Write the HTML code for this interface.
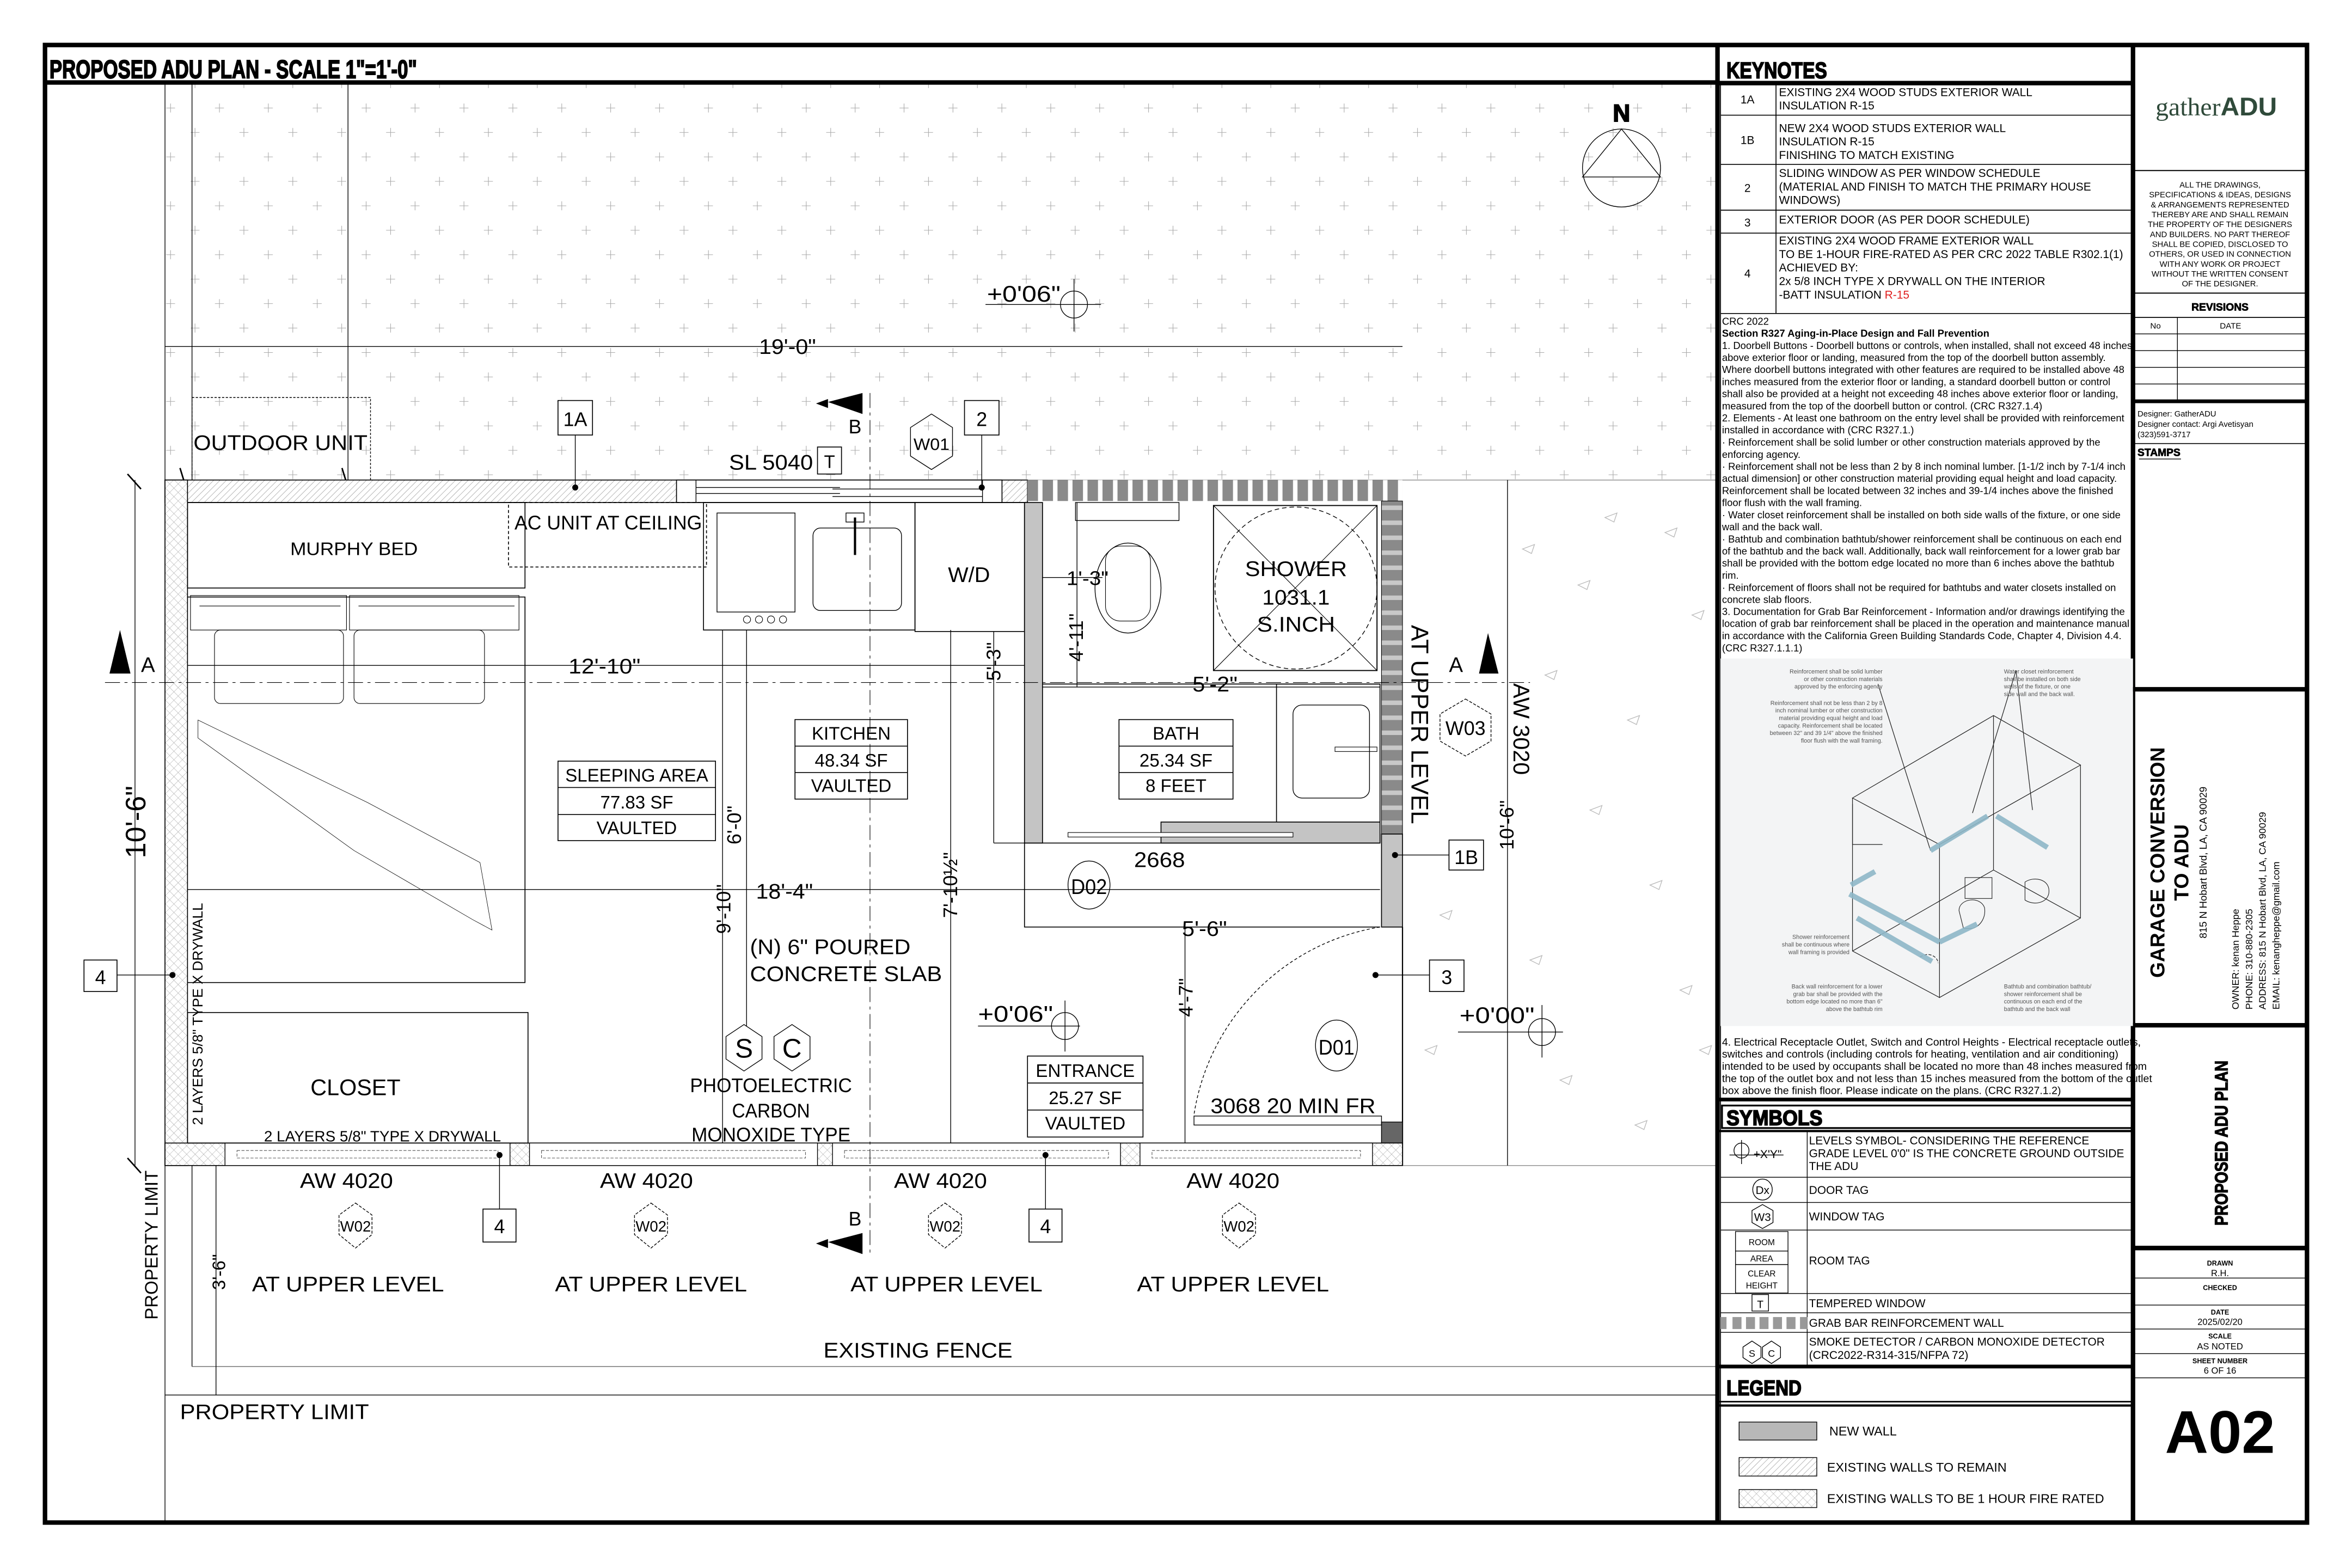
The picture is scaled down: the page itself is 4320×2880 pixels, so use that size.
<!DOCTYPE html>
<html><head><meta charset="utf-8"><style>
html,body{margin:0;padding:0;background:#fff}
svg{display:block}
text{font-family:"Liberation Sans",sans-serif;fill:#000}
.c{text-anchor:middle}
.b{font-weight:bold}
.h{font-weight:bold;stroke:#000;stroke-width:0.7}
</style></head><body>
<svg width="4320" height="2880" viewBox="0 0 1568 1045.3" preserveAspectRatio="none" xmlns="http://www.w3.org/2000/svg">
<defs>
<pattern id="grid" x="113.7" y="72" width="32.6" height="32.6" patternUnits="userSpaceOnUse">
<path d="M-3 0H3M0 -3V3M13.3 16.3H19.3M16.3 13.3V19.3" stroke="#aaa" stroke-width="0.4" fill="none"/>
<path d="M29.6 0H35.6M32.6 -3V3M-3 32.6H3M0 29.6V35.6M29.6 32.6H35.6M32.6 29.6V35.6" stroke="#aaa" stroke-width="0.4" fill="none"/>
</pattern>
<pattern id="hatch" width="3" height="3" patternUnits="userSpaceOnUse" patternTransform="rotate(45)">
<rect width="3" height="3" fill="#fff"/><line x1="0" y1="0" x2="0" y2="3" stroke="#999" stroke-width="0.5"/>
</pattern>
<pattern id="xhatch" width="4" height="4" patternUnits="userSpaceOnUse" patternTransform="rotate(45)">
<rect width="4" height="4" fill="#fff"/><path d="M0 0V4M0 0H4" stroke="#aaa" stroke-width="0.4"/>
</pattern>
<pattern id="grab" width="10" height="14" patternUnits="userSpaceOnUse" x="685">
<rect width="10" height="14" fill="#fff"/><rect width="7" height="14" fill="#8a8a8a"/>
</pattern>
<pattern id="grabv" width="15" height="10" patternUnits="userSpaceOnUse" y="320">
<rect width="15" height="10" fill="#c8c8c8"/><rect width="15" height="7" fill="#8a8a8a"/>
</pattern>
</defs>
<rect width="1568" height="1045.3" fill="#fff"/>

<!-- ===== PLAN AREA ===== -->
<rect x="110" y="56" width="1035" height="264" fill="url(#grid)"/>
<g stroke="#000" stroke-width="0.5" fill="none">
<line x1="110" y1="56" x2="110" y2="1015"/>
<line x1="128" y1="56" x2="128" y2="320"/>
<line x1="232" y1="56" x2="232" y2="320"/>
<line x1="110" y1="231" x2="935" y2="231"/>
<line x1="110" y1="320" x2="1145" y2="320" stroke="#888"/>
<line x1="110" y1="777" x2="1145" y2="777" stroke="#888"/>
<line x1="1005" y1="320" x2="1005" y2="777"/>
<rect x="128" y="265" width="119" height="55" stroke-dasharray="1.5,1"/>
<line x1="128" y1="777" x2="128" y2="911"/>
<line x1="128" y1="911" x2="1145" y2="911" stroke="#666"/>
<line x1="144" y1="777" x2="144" y2="930"/>
<line x1="110" y1="930" x2="1145" y2="930"/>
<line x1="120" y1="312" x2="124" y2="325" stroke-width="1"/>
<line x1="228" y1="312" x2="232" y2="325" stroke-width="1"/>
<line x1="85" y1="316" x2="94" y2="326" stroke-width="1"/>
<line x1="85" y1="772" x2="94" y2="782" stroke-width="1"/>
</g>
<!-- triangles -->
<g fill="none" stroke="#bbb" stroke-width="0.5">
<path d="M1015 366l8-3-2 6z M1052 390l8-3-2 6z M1070 345l8-3-2 6z M1110 355l8-3-2 6z M1128 410l8-3-2 6z M1030 450l8-3-2 6z M1085 480l8-3-2 6z M1060 540l8-3-2 6z M1100 590l8-3-2 6z M1020 640l8-3-2 6z M1120 660l8-3-2 6z M960 610l8-3-2 6z M1040 720l8-3-2 6z M1090 750l8-3-2 6z M1133 700l8-3-2 6z M950 700l8-3-2 6z"/>
</g>

<!-- walls -->
<rect x="110" y="320" width="575" height="15" fill="url(#hatch)" stroke="#000" stroke-width="0.6"/>
<rect x="451" y="320" width="217" height="15" fill="#fff" stroke="#000" stroke-width="0.6"/>
<g stroke="#000" stroke-width="0.5"><line x1="464" y1="325" x2="560" y2="325"/><line x1="464" y1="329" x2="560" y2="329"/><line x1="555" y1="326" x2="655" y2="326"/><line x1="555" y1="331" x2="655" y2="331"/><line x1="464" y1="320" x2="464" y2="335"/><line x1="655" y1="320" x2="655" y2="335"/></g>
<rect x="685" y="320" width="250" height="14" fill="url(#grab)"/>
<rect x="921" y="334" width="14" height="222" fill="url(#grabv)" stroke="#000" stroke-width="0.4"/>
<rect x="921" y="556" width="14" height="62" fill="#c4c4c4" stroke="#000" stroke-width="0.6"/>
<line x1="935" y1="618" x2="935" y2="777" stroke="#000" stroke-width="0.8"/>
<rect x="921" y="748" width="14" height="14" fill="#666" stroke="#000" stroke-width="0.5"/>
<rect x="110" y="320" width="15" height="457" fill="url(#xhatch)" stroke="#000" stroke-width="0.6"/>
<rect x="110" y="762" width="825" height="15" fill="url(#xhatch)" stroke="#000" stroke-width="0.6"/>
<g fill="#fff" stroke="#000" stroke-width="0.5">
<rect x="150" y="762" width="190" height="15"/><rect x="353" y="762" width="192" height="15"/><rect x="555" y="762" width="192" height="15"/><rect x="760" y="762" width="155" height="15"/>
</g>
<g stroke="#555" stroke-width="0.4" stroke-dasharray="2,1" fill="none">
<rect x="158" y="767" width="174" height="5"/><rect x="361" y="767" width="176" height="5"/><rect x="563" y="767" width="176" height="5"/><rect x="768" y="767" width="139" height="5"/>
</g>

<!-- interior -->
<g stroke="#000" stroke-width="0.6" fill="none">
<rect x="125" y="335" width="225" height="57"/>
<rect x="339" y="335" width="132" height="43" stroke-dasharray="2,1.5"/>
<path d="M125 398H350V655H125"/>
<path d="M127 397h104v23h-104z M133 404h94 M233 397h113v23h-113z M239 404h104" stroke-width="0.4"/>
<rect x="143" y="420" width="86" height="49" rx="4" stroke-width="0.4"/>
<rect x="236" y="420" width="87" height="49" rx="4" stroke-width="0.4"/>
<path d="M132 480L245 535 L320 575 L328 620 L315 613 L236 567 L132 492Z" stroke-width="0.3"/>
<rect x="125" y="675" width="227" height="87"/>
<rect x="469" y="335" width="141" height="85"/>
<rect x="478" y="342" width="52" height="66" stroke-width="0.5"/>
<rect x="542" y="352" width="59" height="55" rx="5" stroke-width="0.5"/>
<rect x="564" y="342" width="12" height="6" stroke-width="0.5"/>
<line x1="570" y1="345" x2="570" y2="370" stroke-width="1.5"/>
<circle cx="498" cy="413" r="2.4" stroke-width="0.4"/><circle cx="506" cy="413" r="2.4" stroke-width="0.4"/><circle cx="514" cy="413" r="2.4" stroke-width="0.4"/><circle cx="522" cy="413" r="2.4" stroke-width="0.4"/>
<rect x="610" y="335" width="73" height="86"/>
<path d="M683 562H920"/>
<path d="M683 562V618H920"/>
<rect x="717" y="335" width="69" height="12" stroke-width="0.5"/>
<ellipse cx="752" cy="392" rx="22" ry="30" stroke-width="0.5"/>
<rect x="737" y="364" width="30" height="50" rx="10" stroke-width="0.4"/>
<rect x="809" y="337" width="109" height="110" stroke-width="0.7"/>
<path d="M809 337L918 447M918 337L809 447" stroke-width="0.4"/>
<circle cx="864" cy="392" r="54" stroke-width="0.5" stroke-dasharray="3,2"/>
<rect x="851" y="456" width="69" height="92"/>
<rect x="862" y="470" width="51" height="62" rx="6" stroke-width="0.5"/>
<rect x="890" y="498" width="28" height="3" stroke-width="0.4"/>
<line x1="695" y1="456" x2="920" y2="456"/>
<path d="M920 618 A150 150 0 0 0 796 743" stroke-dasharray="2,1.5" stroke-width="0.5"/>
<rect x="796" y="744" width="125" height="6" stroke-width="0.5"/>
</g>
<rect x="683" y="335" width="12" height="227" fill="#c4c4c4" stroke="#000" stroke-width="0.6"/>
<rect x="774" y="548" width="146" height="14" fill="#c4c4c4" stroke="#000" stroke-width="0.6"/>
<rect x="712" y="555" width="150" height="3" fill="#fff" stroke="#000" stroke-width="0.4"/>

<!-- dimension lines -->
<g stroke="#000" stroke-width="0.5" fill="none">
<line x1="125" y1="443.6" x2="683" y2="443.6"/>
<line x1="125" y1="593" x2="920" y2="593"/>
<line x1="695" y1="458" x2="920" y2="458"/>
<line x1="683" y1="618" x2="920" y2="618"/>
<line x1="481.7" y1="420" x2="481.7" y2="762"/>
<line x1="497.7" y1="420" x2="497.7" y2="684"/>
<line x1="633.8" y1="420" x2="633.8" y2="762"/>
<line x1="662.5" y1="421" x2="662.5" y2="562"/>
<line x1="662.5" y1="562" x2="683" y2="562"/>
<line x1="718" y1="335" x2="718" y2="458"/>
<line x1="695" y1="385" x2="735" y2="385"/>
<line x1="790" y1="618" x2="790" y2="762"/>
<line x1="90" y1="320" x2="90" y2="777"/>
<line x1="70" y1="455" x2="1020" y2="455" stroke-dasharray="10,3,2,3" stroke-width="0.4"/>
<line x1="580" y1="262" x2="580" y2="835" stroke-dasharray="10,3,2,3" stroke-width="0.4"/>
<line x1="657" y1="203" x2="734" y2="203"/><circle cx="716" cy="203" r="9"/><line x1="716" y1="186" x2="716" y2="221"/>
<line x1="652" y1="684" x2="720" y2="684"/><circle cx="710" cy="684" r="9"/><line x1="710" y1="667" x2="710" y2="701"/>
<line x1="972" y1="688" x2="1042" y2="688"/><circle cx="1028" cy="688" r="9"/><line x1="1028" y1="670" x2="1028" y2="705"/>
</g>
<!-- section markers -->
<g fill="#000">
<path d="M73 449 L80 420 L87 449Z"/>
<path d="M986 449 L992 422 L999 449Z"/>
<path d="M552 268 L575 262 L575 276Z M544 269 L552 266 L552 272Z"/>
<path d="M552 828 L575 822 L575 836Z M544 829 L552 826 L552 832Z"/>
</g>
<text x="94" y="448" font-size="14">A</text>
<text x="966" y="448" font-size="14">A</text>
<text x="570" y="289" font-size="13" class="c">B</text>
<text x="570" y="817" font-size="13" class="c">B</text>

<!-- callout boxes -->
<g stroke="#000" stroke-width="0.6" fill="#fff">
<rect x="372" y="267" width="23" height="23"/><rect x="643" y="267" width="23" height="23"/>
<rect x="545" y="298" width="16" height="18"/>
<rect x="966" y="560" width="23" height="20"/>
<rect x="953" y="640" width="23" height="21"/>
<rect x="56" y="640" width="22" height="21"/>
<rect x="322" y="806" width="22" height="22"/><rect x="686" y="806" width="22" height="22"/>
</g>
<g stroke="#000" stroke-width="0.5" fill="none">
<line x1="383.5" y1="290" x2="383.5" y2="325"/><line x1="654.5" y1="290" x2="654.5" y2="325"/>
<line x1="930" y1="570" x2="966" y2="570"/><line x1="917" y1="650" x2="953" y2="650"/>
<line x1="78" y1="650" x2="115" y2="650"/>
<line x1="333" y1="770" x2="333" y2="806"/><line x1="697" y1="770" x2="697" y2="806"/>
</g>
<g fill="#000"><circle cx="383.5" cy="325" r="2"/><circle cx="654.5" cy="325" r="2"/><circle cx="930" cy="570" r="2"/><circle cx="917" cy="650" r="2"/><circle cx="115" cy="650" r="2"/><circle cx="333" cy="770" r="2"/><circle cx="697" cy="770" r="2"/></g>
<g font-size="13" class="c">
<text x="383.5" y="284" class="c">1A</text><text x="654.5" y="284" class="c">2</text>
<text x="553" y="312" font-size="12" class="c">T</text>
<text x="977.5" y="576" class="c">1B</text><text x="964.5" y="656" class="c">3</text>
<text x="67" y="656" class="c">4</text><text x="333" y="822" class="c">4</text><text x="697" y="822" class="c">4</text>
</g>
<!-- hexes -->
<g fill="none" stroke="#000" stroke-width="0.5">
<path d="M621 276L635 285V304L621 313L607 304V285Z"/>
<path d="M977 466L994 476V494L977 504L960 494V476Z" stroke-dasharray="2,1"/>
<path d="M237 802L248 810V823L237 832L226 823V810Z" stroke-dasharray="2,1"/>
<path d="M434 802L445 810V823L434 832L423 823V810Z" stroke-dasharray="2,1"/>
<path d="M630 802L641 810V823L630 832L619 823V810Z" stroke-dasharray="2,1"/>
<path d="M826 802L837 810V823L826 832L815 823V810Z" stroke-dasharray="2,1"/>
<path d="M496 683L508 691V706L496 714L484 706V691Z"/>
<path d="M528 683L540 691V706L528 714L516 706V691Z"/>
<ellipse cx="726" cy="590" rx="14" ry="16"/>
<ellipse cx="891" cy="697" rx="14" ry="17"/>
</g>
<text x="621" y="300" font-size="11" class="c" textLength="24" lengthAdjust="spacingAndGlyphs">W01</text>
<text x="977" y="490" font-size="13" class="c">W03</text>
<g font-size="10" class="c"><text x="237" y="821">W02</text><text x="434" y="821">W02</text><text x="630" y="821">W02</text><text x="826" y="821">W02</text></g>
<text x="496" y="705" font-size="18" class="c">S</text><text x="528" y="705" font-size="18" class="c">C</text>
<text x="726" y="596" font-size="14" class="c" textLength="24" lengthAdjust="spacingAndGlyphs">D02</text>
<text x="891" y="703" font-size="14" class="c" textLength="24" lengthAdjust="spacingAndGlyphs">D01</text>

<!-- North -->
<ellipse cx="1081" cy="112" rx="26" ry="26" fill="none" stroke="#000" stroke-width="0.5"/>
<path d="M1055 118L1081 86L1107 118Z" fill="none" stroke="#000" stroke-width="0.5"/>
<text x="1081" y="81" font-size="16" class="c h">N</text>

<!-- Title -->
<text x="33" y="52" font-size="17" class="h" textLength="245" lengthAdjust="spacingAndGlyphs">PROPOSED ADU PLAN - SCALE 1"=1'-0"</text>

<!-- Plan labels -->
<g font-size="14">
<text x="129" y="300" textLength="116" lengthAdjust="spacingAndGlyphs">OUTDOOR UNIT</text>
<text x="486" y="313" textLength="56" lengthAdjust="spacingAndGlyphs">SL 5040</text>
<text x="343" y="353" font-size="13" textLength="125" lengthAdjust="spacingAndGlyphs">AC UNIT AT CEILING</text>
<text x="236" y="370" font-size="12" class="c" textLength="85" lengthAdjust="spacingAndGlyphs">MURPHY BED</text>
<text x="646" y="388" class="c" textLength="28" lengthAdjust="spacingAndGlyphs">W/D</text>
<text x="725" y="390" class="c" font-size="13" textLength="28" lengthAdjust="spacingAndGlyphs">1'-3"</text>
<text x="864" y="384" class="c" textLength="68" lengthAdjust="spacingAndGlyphs">SHOWER</text>
<text x="864" y="403" class="c" textLength="45" lengthAdjust="spacingAndGlyphs">1031.1</text>
<text x="864" y="421" class="c" textLength="52" lengthAdjust="spacingAndGlyphs">S.INCH</text>
<text x="525" y="236" class="c" textLength="38" lengthAdjust="spacingAndGlyphs">19'-0"</text>
<text x="403" y="449" class="c" textLength="48" lengthAdjust="spacingAndGlyphs">12'-10"</text>
<text x="810" y="461" class="c" textLength="30" lengthAdjust="spacingAndGlyphs">5'-2"</text>
<text x="523" y="599" class="c" textLength="38" lengthAdjust="spacingAndGlyphs">18'-4"</text>
<text x="773" y="578" class="c" textLength="34" lengthAdjust="spacingAndGlyphs">2668</text>
<text x="803" y="624" class="c" textLength="30" lengthAdjust="spacingAndGlyphs">5'-6"</text>
<text x="500" y="636" textLength="107" lengthAdjust="spacingAndGlyphs">(N) 6" POURED</text>
<text x="500" y="654" textLength="128" lengthAdjust="spacingAndGlyphs">CONCRETE SLAB</text>
<text x="514" y="728" class="c" font-size="13" textLength="108" lengthAdjust="spacingAndGlyphs">PHOTOELECTRIC</text>
<text x="514" y="745" class="c" font-size="13" textLength="52" lengthAdjust="spacingAndGlyphs">CARBON</text>
<text x="514" y="761" class="c" font-size="13" textLength="106" lengthAdjust="spacingAndGlyphs">MONOXIDE TYPE</text>
<text x="237" y="730" class="c" font-size="15" textLength="60" lengthAdjust="spacingAndGlyphs">CLOSET</text>
<text x="255" y="761" class="c" font-size="10" textLength="158" lengthAdjust="spacingAndGlyphs">2 LAYERS 5/8" TYPE X DRYWALL</text>
<text x="652" y="681" font-size="15" textLength="50" lengthAdjust="spacingAndGlyphs">+0'06"</text>
<text x="658" y="201" font-size="15" textLength="49" lengthAdjust="spacingAndGlyphs">+0'06"</text>
<text x="973" y="682" font-size="15" textLength="50" lengthAdjust="spacingAndGlyphs">+0'00"</text>
<text x="862" y="742" font-size="14" class="c" textLength="110" lengthAdjust="spacingAndGlyphs">3068 20 MIN FR</text>
<g class="c" font-size="14">
<text x="231" y="792" textLength="62" lengthAdjust="spacingAndGlyphs">AW 4020</text>
<text x="431" y="792" textLength="62" lengthAdjust="spacingAndGlyphs">AW 4020</text>
<text x="627" y="792" textLength="62" lengthAdjust="spacingAndGlyphs">AW 4020</text>
<text x="822" y="792" textLength="62" lengthAdjust="spacingAndGlyphs">AW 4020</text>
<text x="232" y="861" textLength="128" lengthAdjust="spacingAndGlyphs">AT UPPER LEVEL</text>
<text x="434" y="861" textLength="128" lengthAdjust="spacingAndGlyphs">AT UPPER LEVEL</text>
<text x="631" y="861" textLength="128" lengthAdjust="spacingAndGlyphs">AT UPPER LEVEL</text>
<text x="822" y="861" textLength="128" lengthAdjust="spacingAndGlyphs">AT UPPER LEVEL</text>
<text x="612" y="905" textLength="126" lengthAdjust="spacingAndGlyphs">EXISTING FENCE</text>
</g>
<text x="120" y="946" textLength="126" lengthAdjust="spacingAndGlyphs">PROPERTY LIMIT</text>
</g>
<!-- rotated labels -->
<g font-size="13">
<text transform="translate(105,830) rotate(-90)" class="c" font-size="12">PROPERTY LIMIT</text>
<text transform="translate(97,548) rotate(-90)" class="c" font-size="19">10'-6"</text>
<text transform="translate(150,848) rotate(-90)" class="c" font-size="12">3'-6"</text>
<text transform="translate(135,676) rotate(-90)" class="c" font-size="9.5">2 LAYERS 5/8" TYPE X DRYWALL</text>
<text transform="translate(494,550) rotate(-90)" class="c">6'-0"</text>
<text transform="translate(487,606) rotate(-90)" class="c">9'-10"</text>
<text transform="translate(638,590) rotate(-90)" class="c">7'-10½"</text>
<text transform="translate(667,441) rotate(-90)" class="c">5'-3"</text>
<text transform="translate(722,425) rotate(-90)" class="c">4'-11"</text>
<text transform="translate(795,665) rotate(-90)" class="c">4'-7"</text>
<text transform="translate(1009,550) rotate(-90)" class="c">10'-6"</text>
<text transform="translate(941,483) rotate(90)" class="c" font-size="16">AT UPPER LEVEL</text>
<text transform="translate(1009,486) rotate(90)" class="c" font-size="15">AW 3020</text>
</g>

<!-- room tags -->
<g fill="none" stroke="#000" stroke-width="0.6">
<rect x="372" y="507.4" width="105" height="53"/><line x1="372" y1="525" x2="477" y2="525"/><line x1="372" y1="543" x2="477" y2="543"/>
<rect x="530" y="479.7" width="75" height="53"/><line x1="530" y1="497.4" x2="605" y2="497.4"/><line x1="530" y1="515" x2="605" y2="515"/>
<rect x="746" y="479.7" width="76" height="53"/><line x1="746" y1="497.4" x2="822" y2="497.4"/><line x1="746" y1="515" x2="822" y2="515"/>
<rect x="685" y="704" width="77" height="54"/><line x1="685" y1="722" x2="762" y2="722"/><line x1="685" y1="740" x2="762" y2="740"/>
</g>
<g font-size="12" class="c">
<text x="424.5" y="521" class="c">SLEEPING AREA</text><text x="424.5" y="539" class="c">77.83 SF</text><text x="424.5" y="556" class="c">VAULTED</text>
<text x="567.5" y="493" class="c">KITCHEN</text><text x="567.5" y="511" class="c">48.34 SF</text><text x="567.5" y="528" class="c">VAULTED</text>
<text x="784" y="493" class="c">BATH</text><text x="784" y="511" class="c">25.34 SF</text><text x="784" y="528" class="c">8 FEET</text>
<text x="723.5" y="718" class="c">ENTRANCE</text><text x="723.5" y="736" class="c">25.27 SF</text><text x="723.5" y="753" class="c">VAULTED</text>
</g>

<!-- ===== FRAME ===== -->
<g stroke="#000" fill="none">
<rect x="30" y="30" width="1508" height="985" stroke-width="3"/>
<line x1="30" y1="55" x2="1145" y2="55" stroke-width="3"/>
<line x1="1145" y1="30" x2="1145" y2="1015" stroke-width="3"/>
<line x1="1422" y1="30" x2="1422" y2="1015" stroke-width="3"/>
<line x1="1145" y1="55.4" x2="1422" y2="55.4" stroke-width="3"/>
</g>

<!-- ===== KEYNOTES ===== -->
<text x="1151" y="52" font-size="15" class="h" textLength="67" lengthAdjust="spacingAndGlyphs">KEYNOTES</text>
<g stroke="#000" stroke-width="0.6" fill="none">
<line x1="1147" y1="76.8" x2="1422" y2="76.8"/><line x1="1147" y1="109.6" x2="1422" y2="109.6"/><line x1="1147" y1="140.1" x2="1422" y2="140.1"/><line x1="1147" y1="155.4" x2="1422" y2="155.4"/><line x1="1147" y1="209" x2="1422" y2="209"/>
<line x1="1184" y1="55" x2="1184" y2="209"/><line x1="1147" y1="55" x2="1147" y2="1015"/>
</g>
<g font-size="7.6">
<text x="1165" y="69" class="c">1A</text><text x="1165" y="96" class="c">1B</text><text x="1165" y="128" class="c">2</text><text x="1165" y="151" class="c">3</text><text x="1165" y="185" class="c">4</text>
<text x="1186" y="64">EXISTING 2X4 WOOD STUDS EXTERIOR WALL</text>
<text x="1186" y="73">INSULATION R-15</text>
<text x="1186" y="88">NEW 2X4 WOOD STUDS EXTERIOR WALL</text>
<text x="1186" y="97">INSULATION R-15</text>
<text x="1186" y="106">FINISHING TO MATCH EXISTING</text>
<text x="1186" y="118">SLIDING WINDOW AS PER WINDOW SCHEDULE</text>
<text x="1186" y="127">(MATERIAL AND FINISH TO MATCH THE PRIMARY HOUSE</text>
<text x="1186" y="136">WINDOWS)</text>
<text x="1186" y="149">EXTERIOR DOOR (AS PER DOOR SCHEDULE)</text>
<text x="1186" y="163">EXISTING 2X4 WOOD FRAME EXTERIOR WALL</text>
<text x="1186" y="172">TO BE 1-HOUR FIRE-RATED  AS PER CRC 2022 TABLE R302.1(1)</text>
<text x="1186" y="181">ACHIEVED BY:</text>
<text x="1186" y="190">2x 5/8 INCH TYPE X DRYWALL ON THE INTERIOR</text>
<text x="1186" y="199">-BATT INSULATION <tspan fill="#e02020">R-15</tspan></text>
</g>
<g font-size="6.7">
<text x="1148" y="216.5">CRC 2022</text>
<text x="1148" y="224.5" class="b">Section R327 Aging-in-Place Design and Fall Prevention</text>
<text x="1148" y="232.6">1. Doorbell Buttons - Doorbell buttons or controls, when installed, shall not exceed 48 inches</text>
<text x="1148" y="240.7">above exterior floor or landing, measured from the top of the doorbell button assembly.</text>
<text x="1148" y="248.7">Where doorbell buttons integrated with other features are required to be installed above 48</text>
<text x="1148" y="256.8">inches measured from the exterior floor or landing, a standard doorbell button or control</text>
<text x="1148" y="264.8">shall also be provided at a height not exceeding 48 inches above exterior floor or landing,</text>
<text x="1148" y="272.9">measured from the top of the doorbell button or control. (CRC R327.1.4)</text>
<text x="1148" y="281">2. Elements - At least one bathroom on the entry level shall be provided with reinforcement</text>
<text x="1148" y="289">installed in accordance with (CRC R327.1.)</text>
<text x="1148" y="297">· Reinforcement shall be solid lumber or other construction materials approved by the</text>
<text x="1148" y="305.2">enforcing agency.</text>
<text x="1148" y="313.3">· Reinforcement shall not be less than 2 by 8 inch nominal lumber.  [1-1/2 inch by 7-1/4 inch</text>
<text x="1148" y="321.3">actual dimension] or other construction material providing equal height and load capacity.</text>
<text x="1148" y="329.4">Reinforcement shall be located between 32 inches and 39-1/4 inches above the finished</text>
<text x="1148" y="337.4">floor flush with the wall framing.</text>
<text x="1148" y="345.5">· Water closet reinforcement shall be installed on both side walls of the fixture, or one side</text>
<text x="1148" y="353.6">wall and the back wall.</text>
<text x="1148" y="361.6">· Bathtub and combination bathtub/shower reinforcement shall be continuous on each end</text>
<text x="1148" y="369.7">of the bathtub and the back wall. Additionally, back wall reinforcement for a lower grab bar</text>
<text x="1148" y="377.7">shall be provided with the bottom edge located no more than 6 inches above the bathtub</text>
<text x="1148" y="385.8">rim.</text>
<text x="1148" y="393.9">· Reinforcement of floors shall not be required for bathtubs and water closets installed on</text>
<text x="1148" y="401.9">concrete slab floors.</text>
<text x="1148" y="410">3. Documentation for Grab Bar Reinforcement - Information and/or drawings identifying the</text>
<text x="1148" y="418">location of grab bar reinforcement shall be placed in the operation and maintenance manual</text>
<text x="1148" y="426.1">in accordance with the California Green Building Standards Code, Chapter 4, Division 4.4.</text>
<text x="1148" y="434.2">(CRC R327.1.1.1)</text>
</g>
<!-- illustration -->
<rect x="1147" y="439" width="275" height="245" fill="#f3f4f5"/>
<g stroke="#222" stroke-width="0.45" fill="none">
<path d="M1235 532L1329 477L1387 510L1293 563Z"/>
<path d="M1235 532V634L1293 665V563 M1387 510V612L1293 665 M1329 477V580L1235 634 M1329 580L1387 612"/>
<path d="M1252 456L1287 567 M1344 447L1315 542 M1344 447L1355 540 M1235 536V563H1255"/>
<path d="M1306 607c0-8 14-10 17-2c1 6-2 12-8 14h-6z M1310 585h18v14h-18z" stroke-width="0.4"/>
<path d="M1350 588c6-4 16-2 16 6c0 8-10 10-16 6z" stroke-width="0.4"/>
<path d="M1280 638c6-4 12 0 12 4" stroke-dasharray="2,1"/>
</g>
<g stroke="#8fb8c8" stroke-width="3.5" stroke-linecap="butt" opacity="0.9">
<line x1="1287" y1="567" x2="1325" y2="544"/><line x1="1331" y1="544" x2="1365" y2="565"/>
<line x1="1233" y1="596" x2="1293" y2="628"/><line x1="1293" y1="628" x2="1318" y2="616"/>
<line x1="1238" y1="612" x2="1288" y2="641"/><line x1="1234" y1="590" x2="1250" y2="581"/>
</g>
<g font-size="3.9">
<text x="1255" y="449" text-anchor="end" style="fill:#555">Reinforcement shall be solid lumber</text>
<text x="1255" y="454" text-anchor="end" style="fill:#555">or other construction materials</text>
<text x="1255" y="459" text-anchor="end" style="fill:#555">approved by the enforcing agency</text>
<text x="1255" y="470" text-anchor="end" style="fill:#555">Reinforcement shall not be less than 2 by 8</text>
<text x="1255" y="475" text-anchor="end" style="fill:#555">inch nominal  lumber or other construction</text>
<text x="1255" y="480" text-anchor="end" style="fill:#555">material providing equal height and load</text>
<text x="1255" y="485" text-anchor="end" style="fill:#555">capacity. Reinforcement shall be located</text>
<text x="1255" y="490" text-anchor="end" style="fill:#555">between 32" and 39 1/4" above the finished</text>
<text x="1255" y="495" text-anchor="end" style="fill:#555">floor flush with the wall framing.</text>
<text x="1336" y="449" style="fill:#555">Water closet reinforcement</text>
<text x="1336" y="454" style="fill:#555">shall be installed on both side</text>
<text x="1336" y="459" style="fill:#555">walls of the fixture, or one</text>
<text x="1336" y="464" style="fill:#555">side wall and the back wall.</text>
<text x="1233" y="626" text-anchor="end" style="fill:#555">Shower reinforcement</text>
<text x="1233" y="631" text-anchor="end" style="fill:#555">shall be continuous where</text>
<text x="1233" y="636" text-anchor="end" style="fill:#555">wall framing is provided</text>
<text x="1255" y="659" text-anchor="end" style="fill:#555">Back wall reinforcement for a lower</text>
<text x="1255" y="664" text-anchor="end" style="fill:#555">grab bar shall be provided with the</text>
<text x="1255" y="669" text-anchor="end" style="fill:#555">bottom edge located no more than 6"</text>
<text x="1255" y="674" text-anchor="end" style="fill:#555">above the bathtub rim</text>
<text x="1336" y="659" style="fill:#555">Bathtub and combination bathtub/</text>
<text x="1336" y="664" style="fill:#555">shower reinforcement shall be</text>
<text x="1336" y="669" style="fill:#555">continuous on each end of the</text>
<text x="1336" y="674" style="fill:#555">bathtub and the back wall</text>
</g>
<g font-size="7.1">
<text x="1148" y="697">4. Electrical Receptacle Outlet, Switch and Control Heights - Electrical receptacle outlets,</text>
<text x="1148" y="705.1">switches and controls (including controls for heating, ventilation and air conditioning)</text>
<text x="1148" y="713.2">intended to be used by occupants shall be located no more than 48 inches measured from</text>
<text x="1148" y="721.3">the top of the outlet box and not less than 15 inches measured from the bottom of the outlet</text>
<text x="1148" y="729.4">box above the finish floor.  Please indicate on the plans. (CRC R327.1.2)</text>
</g>
<!-- SYMBOLS -->
<g stroke="#000" fill="none">
<line x1="1145" y1="733" x2="1422" y2="733" stroke-width="2.5"/>
<rect x="1148" y="737" width="274" height="15" stroke-width="1.2"/>
<line x1="1145" y1="754" x2="1422" y2="754" stroke-width="1.5"/>
<g stroke-width="0.5"><line x1="1147" y1="784.8" x2="1422" y2="784.8"/><line x1="1147" y1="801.6" x2="1422" y2="801.6"/><line x1="1147" y1="820" x2="1422" y2="820"/><line x1="1147" y1="862.3" x2="1422" y2="862.3"/><line x1="1147" y1="875.2" x2="1422" y2="875.2"/><line x1="1147" y1="888.2" x2="1422" y2="888.2"/>
<line x1="1204.8" y1="754" x2="1204.8" y2="911"/></g>
<line x1="1145" y1="911" x2="1422" y2="911" stroke-width="2.5"/>
<line x1="1145" y1="934.4" x2="1422" y2="934.4" stroke-width="1"/>
<line x1="1145" y1="937" x2="1422" y2="937" stroke-width="1.5"/>
</g>
<text x="1151" y="750" font-size="14" class="h" textLength="64" lengthAdjust="spacingAndGlyphs">SYMBOLS</text>
<g stroke="#000" stroke-width="0.5" fill="none">
<line x1="1153" y1="770" x2="1189" y2="770"/><circle cx="1161" cy="767" r="5"/><line x1="1161" y1="760" x2="1161" y2="776"/>
<ellipse cx="1175" cy="793" rx="6.5" ry="7"/>
<path d="M1175 803L1182 807V815L1175 819L1168 815V807Z"/>
<rect x="1157" y="821" width="35" height="41"/><line x1="1157" y1="834" x2="1192" y2="834"/><line x1="1157" y1="843" x2="1192" y2="843"/>
<rect x="1168" y="863" width="11" height="11"/>
<path d="M1168 894L1174 898V905L1168 909L1162 905V898Z M1181 894L1187 898V905L1181 909L1175 905V898Z"/>
</g>
<g fill="#999"><rect x="1147" y="878" width="4" height="8"/><rect x="1155" y="878" width="6" height="8"/><rect x="1164" y="878" width="6" height="8"/><rect x="1173" y="878" width="6" height="8"/><rect x="1182" y="878" width="6" height="8"/><rect x="1191" y="878" width="6" height="8"/><rect x="1200" y="878" width="5" height="8"/></g>
<g font-size="7.6">
<text x="1169" y="772">+X'Y"</text>
<text x="1175" y="796" class="c" font-size="7.5">Dx</text>
<text x="1175" y="814" class="c" font-size="7.5">W3</text>
<g font-size="5.6"><text x="1174.5" y="830" class="c">ROOM</text><text x="1174.5" y="841" class="c">AREA</text><text x="1174.5" y="851" class="c">CLEAR</text><text x="1174.5" y="859" class="c">HEIGHT</text></g>
<text x="1173.5" y="872" class="c" font-size="7">T</text>
<text x="1168" y="904.5" class="c" font-size="6.5">S</text><text x="1181" y="904.5" class="c" font-size="6.5">C</text>
<text x="1206" y="763">LEVELS SYMBOL- CONSIDERING THE REFERENCE</text>
<text x="1206" y="771.5">GRADE LEVEL 0'0"  IS THE CONCRETE GROUND OUTSIDE</text>
<text x="1206" y="780">THE ADU</text>
<text x="1206" y="796">DOOR TAG</text>
<text x="1206" y="813.5">WINDOW TAG</text>
<text x="1206" y="843">ROOM TAG</text>
<text x="1206" y="871.5">TEMPERED WINDOW</text>
<text x="1206" y="884.5">GRAB BAR REINFORCEMENT WALL</text>
<text x="1206" y="897">SMOKE DETECTOR / CARBON MONOXIDE DETECTOR</text>
<text x="1206" y="906">(CRC2022-R314-315/NFPA 72)</text>
</g>
<!-- LEGEND -->
<text x="1151" y="930" font-size="14" class="h" textLength="50" lengthAdjust="spacingAndGlyphs">LEGEND</text>
<rect x="1159.4" y="948" width="51.8" height="12" fill="#b8b8b8" stroke="#000" stroke-width="0.5"/>
<rect x="1159.4" y="971.7" width="51.8" height="12.3" fill="url(#hatch)" stroke="#000" stroke-width="0.5"/>
<rect x="1159.4" y="993" width="51.8" height="12" fill="url(#xhatch)" stroke="#000" stroke-width="0.5"/>
<g font-size="8.5">
<text x="1219.5" y="957">NEW WALL</text>
<text x="1218" y="981">EXISTING WALLS TO REMAIN</text>
<text x="1218" y="1002">EXISTING WALLS TO BE 1 HOUR FIRE RATED</text>
</g>

<!-- ===== TITLE BLOCK ===== -->
<g stroke="#000" fill="none">
<line x1="1422" y1="113.7" x2="1538" y2="113.7" stroke-width="0.7"/>
<line x1="1422" y1="195.4" x2="1538" y2="195.4" stroke-width="0.7"/>
<line x1="1422" y1="211.6" x2="1538" y2="211.6" stroke-width="0.6"/>
<g stroke-width="0.5"><line x1="1422" y1="222.6" x2="1538" y2="222.6"/><line x1="1422" y1="233.7" x2="1538" y2="233.7"/><line x1="1422" y1="244.9" x2="1538" y2="244.9"/><line x1="1422" y1="256" x2="1538" y2="256"/><line x1="1451.6" y1="211.6" x2="1451.6" y2="267"/></g>
<line x1="1422" y1="267.5" x2="1538" y2="267.5" stroke-width="2.5"/>
<line x1="1422" y1="295.7" x2="1538" y2="295.7" stroke-width="0.6"/>
<line x1="1422" y1="459.5" x2="1538" y2="459.5" stroke-width="3"/>
<line x1="1422" y1="683.5" x2="1538" y2="683.5" stroke-width="3"/>
<line x1="1422" y1="832" x2="1538" y2="832" stroke-width="3"/>
<g stroke-width="0.5"><line x1="1422" y1="852" x2="1538" y2="852"/><line x1="1422" y1="870" x2="1538" y2="870"/><line x1="1422" y1="886" x2="1538" y2="886"/><line x1="1422" y1="902.4" x2="1538" y2="902.4"/><line x1="1422" y1="918.5" x2="1538" y2="918.5"/></g>
<line x1="1426" y1="306" x2="1454" y2="306" stroke-width="0.5"/>
</g>
<text x="1437" y="77" font-size="17" textLength="81" lengthAdjust="spacingAndGlyphs"><tspan font-family="Liberation Serif, serif" style="fill:#2f4a3a">gather</tspan><tspan font-weight="bold" style="fill:#2f4a3a">ADU</tspan></text>
<g font-size="5.4" class="c">
<text x="1480" y="125" class="c">ALL THE DRAWINGS,</text>
<text x="1480" y="131.6" class="c">SPECIFICATIONS &amp; IDEAS, DESIGNS</text>
<text x="1480" y="138.2" class="c">&amp; ARRANGEMENTS REPRESENTED</text>
<text x="1480" y="144.8" class="c">THEREBY ARE AND SHALL REMAIN</text>
<text x="1480" y="151.4" class="c">THE PROPERTY OF THE DESIGNERS</text>
<text x="1480" y="158" class="c">AND BUILDERS.  NO PART THEREOF</text>
<text x="1480" y="164.6" class="c">SHALL BE COPIED, DISCLOSED TO</text>
<text x="1480" y="171.2" class="c">OTHERS, OR USED IN CONNECTION</text>
<text x="1480" y="177.8" class="c">WITH ANY WORK OR PROJECT</text>
<text x="1480" y="184.4" class="c">WITHOUT THE WRITTEN CONSENT</text>
<text x="1480" y="191" class="c">OF THE DESIGNER.</text>
</g>
<text x="1480" y="207" font-size="7" class="c h" style="stroke-width:0.3">REVISIONS</text>
<text x="1437" y="219" font-size="5.5" class="c">No</text><text x="1487" y="219" font-size="5.5" class="c">DATE</text>
<g font-size="5.4"><text x="1425" y="277.7">Designer: GatherADU</text><text x="1425" y="284.6">Designer contact: Argi Avetisyan</text><text x="1425" y="291.4">(323)591-3717</text></g>
<text x="1425" y="304" font-size="7" class="h" style="stroke-width:0.3">STAMPS</text>
<text transform="translate(1443,575) rotate(-90)" font-size="13.5" class="c b">GARAGE CONVERSION</text>
<text transform="translate(1459,575) rotate(-90)" font-size="13.5" class="c b">TO ADU</text>
<text transform="translate(1471,575) rotate(-90)" font-size="6.8" class="c">815 N Hobart Blvd, LA, CA 90029</text>
<g font-size="6.5">
<text transform="translate(1492.5,673) rotate(-90)">OWNER:  kenan Heppe</text>
<text transform="translate(1501.5,673) rotate(-90)">PHONE:      310-880-2305</text>
<text transform="translate(1510.5,673) rotate(-90)">ADDRESS:  815 N Hobart Blvd, LA, CA 90029</text>
<text transform="translate(1519.5,673) rotate(-90)">EMAIL:        kenangheppe@gmail.com</text>
</g>
<text transform="translate(1485,762) rotate(-90)" font-size="12" class="c h" style="stroke-width:0.5" textLength="110" lengthAdjust="spacingAndGlyphs">PROPOSED ADU PLAN</text>
<g class="c">
<text x="1480" y="843.7" font-size="4.6" class="c b">DRAWN</text><text x="1480" y="850.7" font-size="6" class="c">R.H.</text>
<text x="1480" y="860" font-size="4.6" class="c b">CHECKED</text>
<text x="1480" y="876.4" font-size="4.6" class="c b">DATE</text><text x="1480" y="883.3" font-size="6" class="c">2025/02/20</text>
<text x="1480" y="892.4" font-size="4.6" class="c b">SCALE</text><text x="1480" y="899.5" font-size="6" class="c">AS NOTED</text>
<text x="1480" y="908.8" font-size="4.6" class="c b">SHEET NUMBER</text><text x="1480" y="915.8" font-size="6" class="c">6 OF 16</text>
</g>
<text x="1480" y="968.5" font-size="40" class="c b">A02</text>
</svg>
</body></html>
